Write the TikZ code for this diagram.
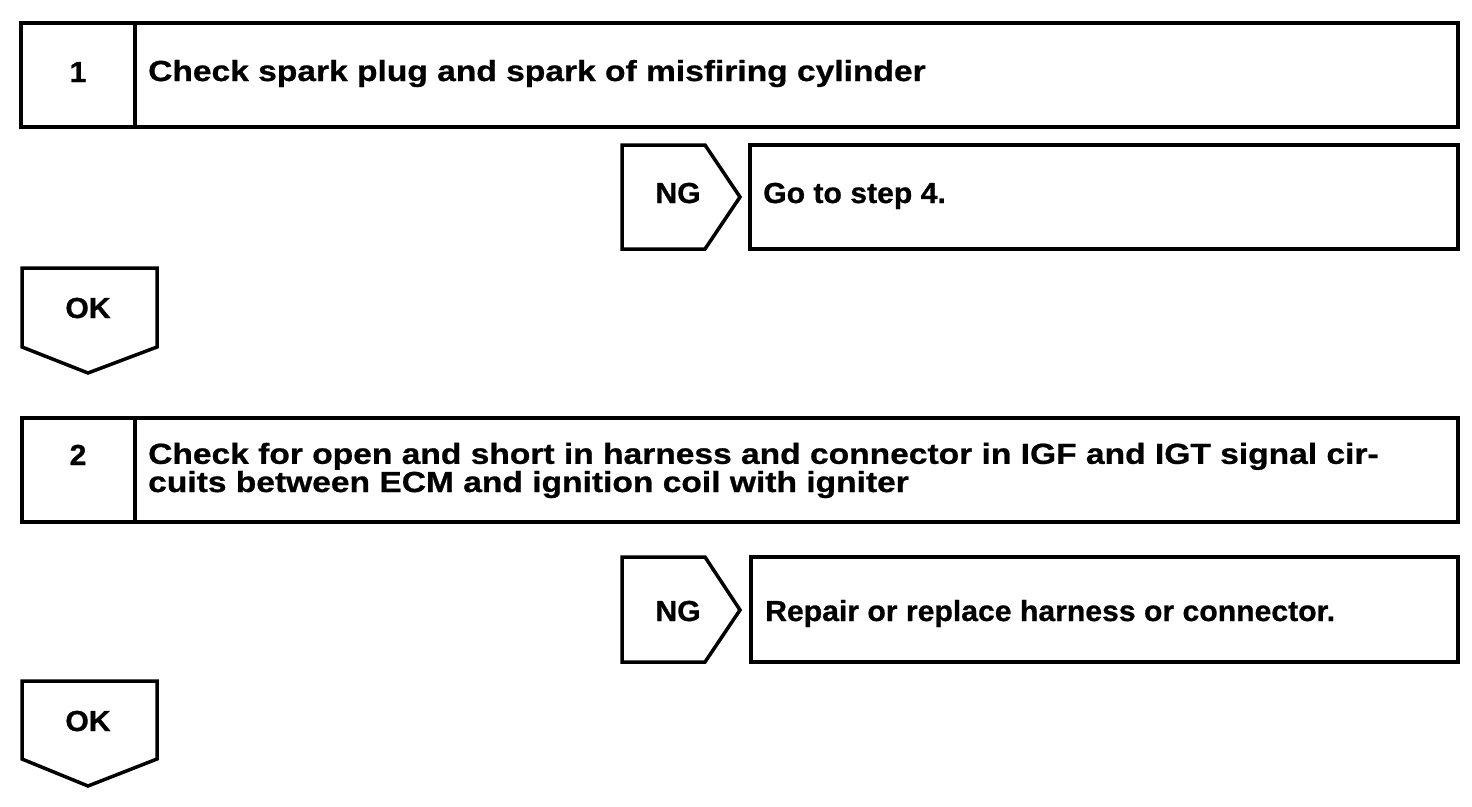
\documentclass[tikz,border=0pt]{standalone}
\usepackage{fontspec}
\setmainfont{Liberation Sans}
\newfontfamily\stepfont[FakeStretch=1.157,BoldFeatures={FakeBold=0.8}]{Liberation Sans}
\newfontfamily\resfont[FakeStretch=1.04,BoldFeatures={FakeBold=0.8}]{Liberation Sans}
\begin{document}
\begin{tikzpicture}[x=1pt,y=-1pt,line join=miter,
  frame/.style={draw=black,line width=3.5pt},
  steptext/.style={font=\stepfont\fontsize{29}{25}\selectfont\bfseries,inner sep=0pt,anchor=base west,align=left},
  restext/.style={font=\resfont\fontsize{29}{25}\selectfont\bfseries,inner sep=0pt,anchor=base west},
  ctr/.style={font=\resfont\fontsize{29}{25}\selectfont\bfseries,inner sep=0pt,anchor=base}]
\useasboundingbox[fill=white] (0,0) rectangle (1472,806);
% Step 1
\draw[frame] (21,23) rectangle (1458,127);
\draw[frame] (135,23) -- (135,127);
\node[ctr] (n1) at (78,82) {1};
\node[steptext] (t1) at (148,81) {Check spark plug and spark of misfiring cylinder};
% NG 1
\draw[frame] (622,145) -- (705,145) -- (740,197) -- (705,249) -- (622,249) -- cycle;
\node[ctr] (ng1) at (678,203) {NG};
\draw[frame] (750,145) rectangle (1458,249);
\node[restext] (r1) at (763,203) {Go to step 4.};
% OK 1
\draw[frame] (22,268) -- (157,268) -- (157,347) -- (88,373) -- (22,347) -- cycle;
\node[ctr] (ok1) at (88,318) {OK};
% Step 2
\draw[frame] (22,418) rectangle (1458,522);
\draw[frame] (135,418) -- (135,522);
\node[ctr] (n2) at (78,465) {2};
\node[steptext] (t2) at (148,492) {Check for open and short in harness and connector in IGF and IGT signal cir-\\cuits between ECM and ignition coil with igniter};
% NG 2
\draw[frame] (622,557) -- (705,557) -- (740,610) -- (705,662) -- (622,662) -- cycle;
\node[ctr] (ng2) at (678,621) {NG};
\draw[frame] (751,557) rectangle (1458,662);
\node[restext] (r2) at (765,621) {Repair or replace harness or connector.};
% OK 2
\draw[frame] (22,681) -- (157,681) -- (157,759) -- (88,786) -- (22,759) -- cycle;
\node[ctr] (ok2) at (88,731) {OK};
\end{tikzpicture}
\end{document}
